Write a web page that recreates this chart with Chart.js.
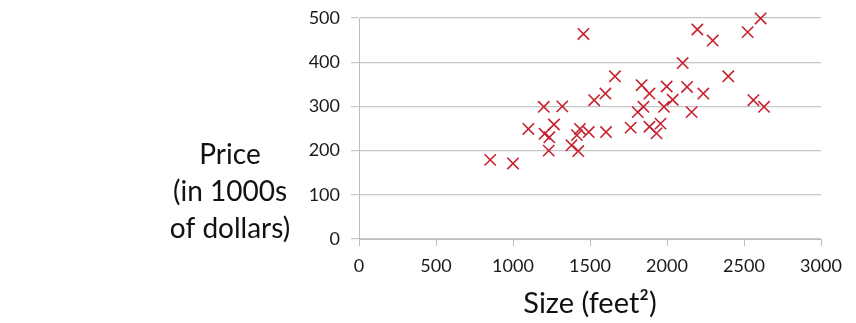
<!DOCTYPE html>
<html>
<head>
<meta charset="utf-8">
<script src="https://cdn.jsdelivr.net/npm/chart.js@4/dist/chart.umd.min.js"></script>
<style>
  html, body { margin: 0; padding: 0; background: #ffffff; }
  #wrap { width: 856px; height: 323px; position: relative; }
</style>
</head>
<body>
<div id="wrap"><canvas id="c" width="856" height="323"></canvas></div>
<script>
// House size (square feet) and sale price (thousands of dollars)
const sizes = [852, 1000, 1100, 1200, 1205, 1236, 1232, 1266, 1320, 1380,
               1415, 1435, 1424, 1457, 1492, 1527, 1600, 1604, 1662, 1764,
               1810, 1835, 1847, 1886, 1886, 1932, 1958, 1980, 1998, 2037,
               2102, 2130, 2160, 2197, 2236, 2297, 2398, 2524, 2561, 2608, 2630];
const prices = [179, 171, 249, 299, 238, 230, 200, 259, 300, 212,
                235, 249, 199, 464, 242, 314, 329, 242, 368, 252,
                287, 348, 299, 254, 329, 239, 261, 299, 345, 315,
                398, 344, 287, 474, 329, 449, 368, 468, 314, 499, 299];
const xTicks = [0, 500, 1000, 1500, 2000, 2500, 3000];
const yTicks = [0, 100, 200, 300, 400, 500];
const xTitle = 'Size (feet²)';
const yTitle = ['Price', '(in 1000s', 'of dollars)'];

const points = sizes.map((s, i) => ({ x: s, y: prices[i] }));
const FONT = 'Lato, "Open Sans", sans-serif';

const titles = {
  id: 'axisTitles',
  afterDraw(chart) {
    const ctx = chart.ctx;
    const area = chart.chartArea;
    ctx.save();
    ctx.fillStyle = '#111';
    ctx.textAlign = 'center';
    ctx.textBaseline = 'alphabetic';
    ctx.font = '28px ' + FONT;
    const ys = [164, 201, 238];
    yTitle.forEach((t, i) => ctx.fillText(t, 230, ys[i]));
    ctx.font = '29px ' + FONT;
    ctx.fillText(xTitle, (area.left + area.right) / 2, 313);
    ctx.restore();
  }
};

new Chart(document.getElementById('c'), {
  type: 'scatter',
  data: {
    datasets: [{
      data: points,
      clip: false,
      pointStyle: 'crossRot',
      pointRadius: 8,
      pointHoverRadius: 8,
      pointBorderWidth: 1.6,
      borderColor: '#c8202e',
      backgroundColor: '#c8202e'
    }]
  },
  options: {
    responsive: false,
    animation: false,
    layout: { padding: { left: 0, right: 35, top: 18, bottom: 0 } },
    plugins: { legend: { display: false }, tooltip: { enabled: false } },
    scales: {
      x: {
        type: 'linear',
        min: 0, max: 3000,
        afterBuildTicks: s => { s.ticks = xTicks.map(v => ({ value: v })); },
        afterFit: s => { s.height = 84; s.paddingLeft = 0; s.paddingRight = 0; },
        grid: { drawOnChartArea: false, drawTicks: true, tickLength: 7, color: '#bdbdbd' },
        border: { color: '#bdbdbd', width: 1 },
        ticks: { padding: 9, color: '#1a1a1a', font: { family: FONT, size: 18 },
                 callback: v => String(v) }
      },
      y: {
        type: 'linear',
        min: 0, max: 500,
        afterBuildTicks: s => { s.ticks = yTicks.map(v => ({ value: v })); },
        afterFit: s => { s.width = 359; s.paddingTop = 0; s.paddingBottom = 0; },
        grid: { drawTicks: true, tickLength: 8, color: '#c6c6c6', lineWidth: 1.2 },
        border: { color: '#bdbdbd', width: 1 },
        ticks: { padding: 11, color: '#1a1a1a', font: { family: FONT, size: 18 },
                 callback: v => String(v) }
      }
    }
  },
  plugins: [titles]
});
</script>
</body>
</html>
